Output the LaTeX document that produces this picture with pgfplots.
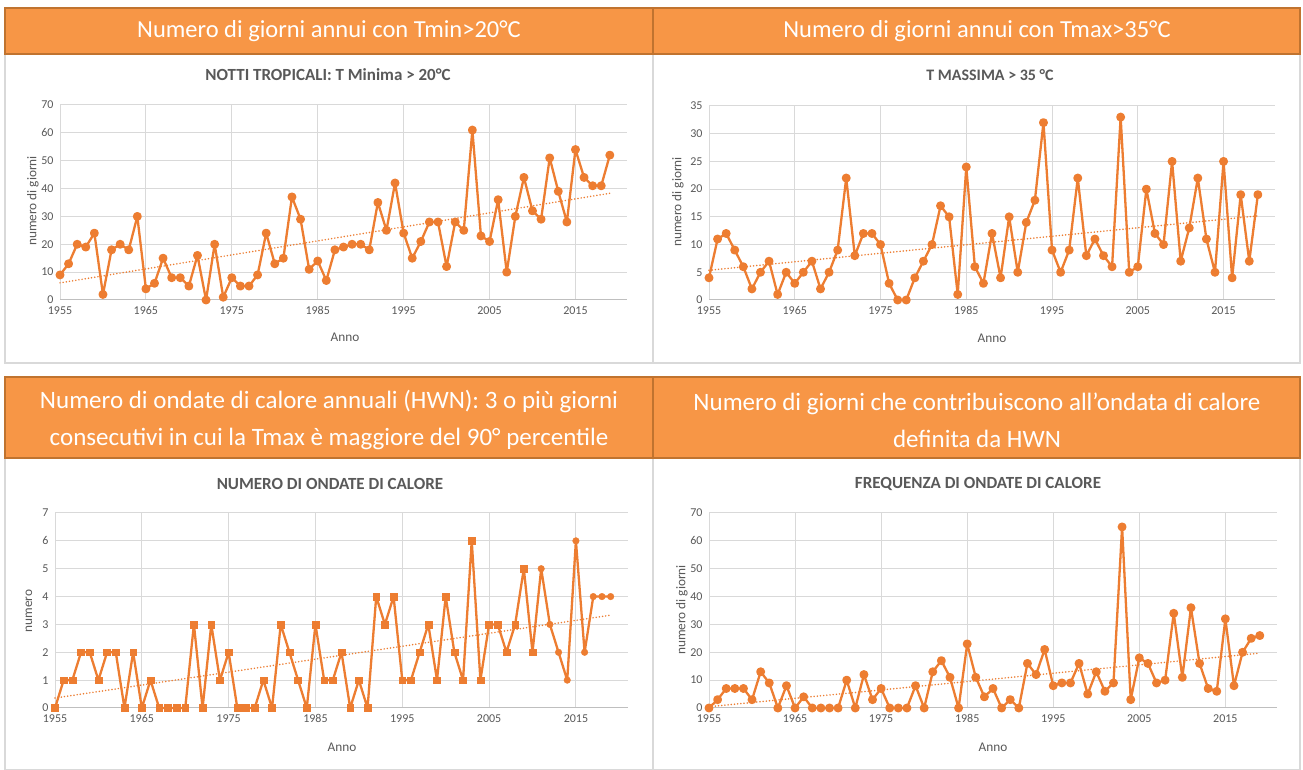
\documentclass[border=0pt]{standalone}
\usepackage{fontspec}
\setmainfont{Carlito}
\usepackage{pgfplots}
\usepackage{pgfplotstable}
\pgfplotsset{compat=1.18}
\definecolor{lineor}{HTML}{ED7D31}
\definecolor{headfill}{HTML}{F79646}
\definecolor{headdraw}{HTML}{C0732F}
\definecolor{gridc}{HTML}{D9D9D9}
\definecolor{axc}{HTML}{BFBFBF}
\definecolor{txt}{HTML}{595959}

\pgfplotstableread{
year v
1955 9
1956 13
1957 20
1958 19
1959 24
1960 2
1961 18
1962 20
1963 18
1964 30
1965 4
1966 6
1967 15
1968 8
1969 8
1970 5
1971 16
1972 0
1973 20
1974 1
1975 8
1976 5
1977 5
1978 9
1979 24
1980 13
1981 15
1982 37
1983 29
1984 11
1985 14
1986 7
1987 18
1988 19
1989 20
1990 20
1991 18
1992 35
1993 25
1994 42
1995 24
1996 15
1997 21
1998 28
1999 28
2000 12
2001 28
2002 25
2003 61
2004 23
2005 21
2006 36
2007 10
2008 30
2009 44
2010 32
2011 29
2012 51
2013 39
2014 28
2015 54
2016 44
2017 41
2018 41
2019 52
}\tmin

\pgfplotstableread{
year v
1955 4
1956 11
1957 12
1958 9
1959 6
1960 2
1961 5
1962 7
1963 1
1964 5
1965 3
1966 5
1967 7
1968 2
1969 5
1970 9
1971 22
1972 8
1973 12
1974 12
1975 10
1976 3
1977 0
1978 0
1979 4
1980 7
1981 10
1982 17
1983 15
1984 1
1985 24
1986 6
1987 3
1988 12
1989 4
1990 15
1991 5
1992 14
1993 18
1994 32
1995 9
1996 5
1997 9
1998 22
1999 8
2000 11
2001 8
2002 6
2003 33
2004 5
2005 6
2006 20
2007 12
2008 10
2009 25
2010 7
2011 13
2012 22
2013 11
2014 5
2015 25
2016 4
2017 19
2018 7
2019 19
}\tmax

\pgfplotstableread{
year v
1955 0
1956 1
1957 1
1958 2
1959 2
1960 1
1961 2
1962 2
1963 0
1964 2
1965 0
1966 1
1967 0
1968 0
1969 0
1970 0
1971 3
1972 0
1973 3
1974 1
1975 2
1976 0
1977 0
1978 0
1979 1
1980 0
1981 3
1982 2
1983 1
1984 0
1985 3
1986 1
1987 1
1988 2
1989 0
1990 1
1991 0
1992 4
1993 3
1994 4
1995 1
1996 1
1997 2
1998 3
1999 1
2000 4
2001 2
2002 1
2003 6
2004 1
2005 3
2006 3
2007 2
2008 3
2009 5
2010 2
2011 5
2012 3
2013 2
2014 1
2015 6
2016 2
2017 4
2018 4
2019 4
}\hwn

\pgfplotstableread{
year v
1955 0
1956 3
1957 7
1958 7
1959 7
1960 3
1961 13
1962 9
1963 0
1964 8
1965 0
1966 4
1967 0
1968 0
1969 0
1970 0
1971 10
1972 0
1973 12
1974 3
1975 7
1976 0
1977 0
1978 0
1979 8
1980 0
1981 13
1982 17
1983 11
1984 0
1985 23
1986 11
1987 4
1988 7
1989 0
1990 3
1991 0
1992 16
1993 12
1994 21
1995 8
1996 9
1997 9
1998 16
1999 5
2000 13
2001 6
2002 9
2003 65
2004 3
2005 18
2006 16
2007 9
2008 10
2009 34
2010 11
2011 36
2012 16
2013 7
2014 6
2015 32
2016 8
2017 20
2018 25
2019 26
}\hwf

\pgfplotsset{
  panel/.style={
    scale only axis, xmin=1955, xmax=2021, ymin=0,
    anchor=south west,
    axis x line*=bottom, axis y line*=left,
    y axis line style={draw=none},
    x axis line style={draw=axc, line width=1pt, -},
    grid=major, grid style={gridc, line width=1pt},
    major tick length=0pt,
    xtick={1955,1965,...,2015},
    /pgf/number format/1000 sep={},
    /pgf/number format/assume math mode=true,
    tick label style={font=\fontsize{12}{14}\selectfont, text=txt},
    yticklabel style={xshift=-3pt},
    xticklabel style={yshift=-3pt},
    clip=false,
  },
  ser/.style={lineor, line width=2.3pt, line join=round, mark=*, mark size=3.3pt, mark options={solid}},
  trend/.style={lineor, line width=1.7pt, dash pattern=on 0pt off 3.2pt, line cap=round},
}

\begin{document}
\begin{tikzpicture}[x=1pt,y=1pt]
\path[use as bounding box] (0,0) rectangle (1303,770);
% chart boxes
\draw[gridc, line width=1.2pt, fill=white] (5,407) rectangle (653,716);
\draw[gridc, line width=1.2pt, fill=white] (653,407) rectangle (1300,716);
\draw[gridc, line width=1.2pt, fill=white] (5,0) rectangle (653,312);
\draw[gridc, line width=1.2pt, fill=white] (653,0) rectangle (1300,312);
% headers
\draw[headdraw, line width=2pt, fill=headfill] (5,716) rectangle (653,762);
\draw[headdraw, line width=2pt, fill=headfill] (653,716) rectangle (1300,762);
\draw[headdraw, line width=2pt, fill=headfill] (5,312) rectangle (653,393);
\draw[headdraw, line width=2pt, fill=headfill] (653,312) rectangle (1300,393);
\node[text=white, font=\fontsize{24.5}{28}\selectfont] at (329,739) {Numero di giorni annui con Tmin>20°C};
\node[text=white, font=\fontsize{24.5}{28}\selectfont] at (977,739) {Numero di giorni annui con Tmax>35°C};
\node[text=white, align=center, font=\fontsize{25}{37}\selectfont] at (329,350) {Numero di ondate di calore annuali (HWN): 3 o più giorni\\consecutivi in cui la Tmax è maggiore del 90° percentile};
\node[text=white, align=center, font=\fontsize{25}{37}\selectfont] at (977,350) {Numero di giorni che contribuiscono all’ondata di calore\\definita da HWN};
% subtitles
\node[text=txt, font=\bfseries\fontsize{17}{20}\selectfont] at (328,695) {NOTTI TROPICALI: T Minima > 20°C};
\node[text=txt, font=\bfseries\fontsize{16}{19}\selectfont] at (990,695) {T MASSIMA > 35 °C};
\node[text=txt, font=\bfseries\fontsize{17}{20}\selectfont] at (330,286) {NUMERO DI ONDATE DI CALORE};
\node[text=txt, font=\bfseries\fontsize{17}{20}\selectfont] at (978,286) {FREQUENZA DI ONDATE DI CALORE};
% axis titles
\node[text=txt, rotate=90, font=\fontsize{13.3}{16}\selectfont] at (33,569) {numero di giorni};
\node[text=txt, rotate=90, font=\fontsize{13.3}{16}\selectfont] at (678,568) {numero di giorni};
\node[text=txt, rotate=90, font=\fontsize{13.3}{16}\selectfont] at (29,159) {numero};
\node[text=txt, rotate=90, font=\fontsize{13.3}{16}\selectfont] at (682,160) {numero di giorni};
\node[text=txt, font=\fontsize{13.3}{16}\selectfont] at (345,433) {Anno};
\node[text=txt, font=\fontsize{13.3}{16}\selectfont] at (992,432) {Anno};
\node[text=txt, font=\fontsize{13.3}{16}\selectfont] at (342,23) {Anno};
\node[text=txt, font=\fontsize{13.3}{16}\selectfont] at (993,23) {Anno};

% panel 1
\begin{axis}[panel, at={(60pt,470pt)}, width=567pt, height=195pt, ymax=70, ytick={0,10,...,70}]
\addplot[ser] table[x=year,y=v]{\tmin};
\addplot[trend] table[x=year, y={create col/linear regression={y=v}}]{\tmin};
\end{axis}
% panel 2
\begin{axis}[panel, at={(709pt,470pt)}, width=566pt, height=194pt, ymax=35, ytick={0,5,...,35}]
\addplot[ser] table[x=year,y=v]{\tmax};
\addplot[trend] table[x=year, y={create col/linear regression={y=v}}]{\tmax};
\end{axis}
% panel 3
\begin{axis}[panel, at={(55pt,62pt)}, width=573pt, height=195pt, ymax=7, ytick={0,1,...,7}]
\addplot[lineor, line width=2.3pt, line join=round] table[x=year,y=v]{\hwn};
\addplot[only marks, lineor, mark=square*, mark size=3.4pt, restrict x to domain=1955:2010] table[x=year,y=v]{\hwn};
\addplot[only marks, lineor, mark=*, mark size=3.3pt, restrict x to domain=2011:2019] table[x=year,y=v]{\hwn};
\addplot[trend] table[x=year, y={create col/linear regression={y=v}}]{\hwn};
\end{axis}
% panel 4
\begin{axis}[panel, at={(709pt,62pt)}, width=568pt, height=195pt, ymax=70, ytick={0,10,...,70}]
\addplot[ser] table[x=year,y=v]{\hwf};
\addplot[trend] table[x=year, y={create col/linear regression={y=v}}]{\hwf};
\end{axis}
\end{tikzpicture}
\end{document}
